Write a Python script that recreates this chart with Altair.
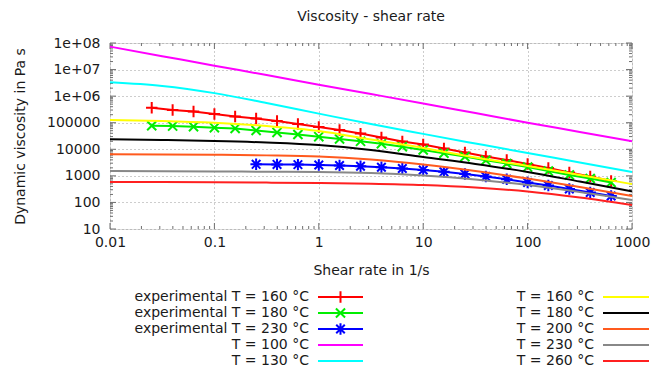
import altair as alt
import pandas as pd

# ---------------- data ----------------
shear_fit = [0.01, 0.0316, 0.1, 0.316, 1, 3.16, 10, 31.6, 100, 316, 1000]
eta_T100 = [7.3e7, 3.2e7, 1.4e7, 6.2e6, 2.7e6, 1.2e6, 5.3e5, 2.3e5, 1.0e5, 4.5e4, 2.0e4]
eta_T130 = [3.3e6, 2.4e6, 1.3e6, 5.5e5, 2.2e5, 8.9e4, 3.8e4, 1.65e4, 7.2e3, 3.2e3, 1.4e3]
eta_T160 = [1.26e5, 1.16e5, 9.9e4, 7.5e4, 4.9e4, 2.33e4, 1.12e4, 4.9e3, 2.35e3, 1.08e3, 490]
eta_T180 = [2.38e4, 2.23e4, 2.05e4, 1.8e4, 1.45e4, 9.4e3, 5.1e3, 2.8e3, 1.4e3, 610, 260]
eta_T200 = [6.5e3, 6.4e3, 6.2e3, 5.9e3, 5.35e3, 4.1e3, 2.67e3, 1.52e3, 790, 380, 175]
eta_T230 = [1.52e3, 1.5e3, 1.47e3, 1.43e3, 1.4e3, 1.28e3, 1.03e3, 730, 450, 247, 123]
eta_T260 = [587, 582, 571, 557, 538, 507, 453, 365, 258, 153, 80]

shear_exp = [0.0251, 0.0398, 0.0631, 0.1, 0.158, 0.251, 0.398, 0.631, 1, 1.58, 2.51,
             3.98, 6.31, 10, 15.8, 25.1, 39.8, 63.1, 100, 158, 251, 398, 631]
shear_exp_230 = [0.251, 0.398, 0.631, 1, 1.58, 2.51, 3.98, 6.31, 10, 15.8, 25.1,
                 39.8, 63.1, 100, 158, 251, 398, 631]
eta_exp_160 = [3.67e5, 3.01e5, 2.64e5, 2.13e5, 1.71e5, 1.44e5, 1.16e5, 8.9e4, 6.9e4,
               5.3e4, 3.9e4, 2.77e4, 1.96e4, 1.51e4, 1.07e4, 7.6e3, 5.35e3, 3.95e3,
               2.79e3, 1.98e3, 1.34e3, 946, 640]
eta_exp_180 = [7.7e4, 7.5e4, 7.1e4, 6.5e4, 6.1e4, 5.1e4, 4.3e4, 3.6e4, 2.97e4, 2.44e4,
               2.0e4, 1.62e4, 1.25e4, 9.4e3, 7.1e3, 5.3e3, 3.85e3, 2.92e3, 2.15e3,
               1.52e3, 1.08e3, 794, 562]
eta_exp_230 = [2.72e3, 2.70e3, 2.65e3, 2.56e3, 2.45e3, 2.29e3, 2.10e3, 1.89e3, 1.66e3,
               1.42e3, 1.17e3, 946, 741, 562, 434, 320, 236, 175]

exp_names = ["experimental T = 160 °C", "experimental T = 180 °C", "experimental T = 230 °C"]
fit_names = ["T = 100 °C", "T = 130 °C", "T = 160 °C", "T = 180 °C", "T = 200 °C",
             "T = 230 °C", "T = 260 °C"]

# ---------------- styling ----------------
FONT = "DejaVu Sans"
W, H = 522, 186
BORDER = "#6e6e6e"
exp_colors = ["#ff0000", "#00ee00", "#0000ff"]
fit_colors = ["#ff00ff", "#00ffff", "#ffff00", "#000000", "#ff5a1e", "#888888", "#ff2020"]
PLUS = "M-1,0L1,0M0,-1L0,1"
CROSS = "M-0.8,-0.8L0.8,0.8M-0.8,0.8L0.8,-0.8"
STAR = PLUS + "M-0.75,-0.75L0.75,0.75M-0.75,0.75L0.75,-0.75"
exp_shapes = [PLUS, CROSS, STAR]

xscale = alt.Scale(type="log", domain=[0.01, 1000], nice=False)
yscale = alt.Scale(type="log", domain=[10, 1e8], nice=False)

x_axis = alt.Axis(
    values=[0.01, 0.1, 1, 10, 100, 1000], format="~g", ticks=False, domain=False,
    labelFlush=False, labelOverlap=False,
    grid=True, gridDash=[1, 3], gridColor="#9a9a9a", gridWidth=1,
    labelFont=FONT, labelFontSize=14, labelColor="#1a1a1a", labelPadding=6,
    title="Shear rate in 1/s", titleFont=FONT, titleFontSize=14, titleFontWeight="normal",
    titleColor="#1a1a1a", titleY=41, titleBaseline="middle",
)
y_axis = alt.Axis(
    values=[10, 100, 1000, 1e4, 1e5, 1e6, 1e7, 1e8],
    labelExpr="datum.value >= 1e6 ? '1e+0' + round(log(datum.value) / LN10) : format(datum.value, 'd')",
    ticks=False, domain=False, labelFlush=False, labelOverlap=False,
    grid=True, gridDash=[1, 3], gridColor="#9a9a9a", gridWidth=1,
    labelFont=FONT, labelFontSize=14, labelColor="#1a1a1a", labelPadding=10,
    title="Dynamic viscosity in Pa s", titleFont=FONT, titleFontSize=14,
    titleFontWeight="normal", titleColor="#1a1a1a", titleX=-90, titleY=H / 2,
    titleBaseline="middle", titleAlign="center", titleAngle=-90,
)


def X(field):
    return alt.X(f"{field}:Q", scale=xscale, axis=x_axis)


def Y(field):
    return alt.Y(f"{field}:Q", scale=yscale, axis=y_axis)


layers = []

# ---- inward ticks (mirror on all four sides) ----
x_major = [0.01, 0.1, 1, 10, 100, 1000]
x_minor = [m * 10.0 ** d for d in range(-2, 3) for m in range(2, 10)]
y_major = [10.0 ** d for d in range(1, 9)]
y_minor = [m * 10.0 ** d for d in range(1, 8) for m in range(2, 10)]
for vals, ln in [(x_major, 6), (x_minor, 3)]:
    df = pd.DataFrame({"t": vals})
    layers.append(alt.Chart(df).mark_rule(color=BORDER, strokeWidth=1).encode(
        x=X("t"), y=alt.value(H), y2=alt.value(H - ln)))
    layers.append(alt.Chart(df).mark_rule(color=BORDER, strokeWidth=1).encode(
        x=X("t"), y=alt.value(0), y2=alt.value(ln)))
for vals, ln in [(y_major, 6), (y_minor, 3)]:
    df = pd.DataFrame({"t": vals})
    layers.append(alt.Chart(df).mark_rule(color=BORDER, strokeWidth=1).encode(
        y=Y("t"), x=alt.value(0), x2=alt.value(ln)))
    layers.append(alt.Chart(df).mark_rule(color=BORDER, strokeWidth=1).encode(
        y=Y("t"), x=alt.value(W), x2=alt.value(W - ln)))

# ---- experimental series ----
exp_x = [shear_exp, shear_exp, shear_exp_230]
exp_y = [eta_exp_160, eta_exp_180, eta_exp_230]
for name, xs, ys, col, shp in zip(exp_names, exp_x, exp_y, exp_colors, exp_shapes):
    df = pd.DataFrame({"shear": xs, "eta": ys, "series": name})
    layers.append(alt.Chart(df).mark_line(color=col, strokeWidth=2).encode(
        x=X("shear"), y=Y("eta")))
    layers.append(alt.Chart(df).mark_point(shape=shp, size=130, filled=False, color=col,
                                           strokeWidth=2, opacity=1).encode(
        x=X("shear"), y=Y("eta")))

# ---- model curves ----
fit_y = [eta_T100, eta_T130, eta_T160, eta_T180, eta_T200, eta_T230, eta_T260]
for name, ys, col in zip(fit_names, fit_y, fit_colors):
    df = pd.DataFrame({"shear": shear_fit, "eta": ys, "series": name})
    layers.append(alt.Chart(df).mark_line(color=col, strokeWidth=2, interpolate="monotone").encode(
        x=X("shear"), y=Y("eta")))

# ---- title ----
one = pd.DataFrame({"k": [0]})
layers.append(alt.Chart(one).mark_text(font=FONT, fontSize=14, color="#1a1a1a",
                                       align="center", baseline="middle").encode(
    x=alt.value(W / 2), y=alt.value(-26), text=alt.value("Viscosity - shear rate")))

# ---- legend (two columns below the plot) ----
row_y = [254, 270, 286, 302, 318]
col1 = list(zip(exp_names + fit_names[:2], exp_colors + fit_colors[:2],
                exp_shapes + [None, None]))
col2 = list(zip(fit_names[2:], fit_colors[2:], [None] * 5))
for entries, text_right, line_l, line_r in [(col1, 199, 208, 253), (col2, 484, 493, 539)]:
    for (label, col, shp), ry in zip(entries, row_y):
        layers.append(alt.Chart(one).mark_text(font=FONT, fontSize=14, color="#1a1a1a",
                                               align="right", baseline="middle").encode(
            x=alt.value(text_right), y=alt.value(ry), text=alt.value(label)))
        layers.append(alt.Chart(one).mark_rule(color=col, strokeWidth=2).encode(
            x=alt.value(line_l), x2=alt.value(line_r), y=alt.value(ry)))
        if shp:
            layers.append(alt.Chart(one).mark_point(shape=shp, size=130, filled=False,
                                                    color=col, strokeWidth=2, opacity=1).encode(
                x=alt.value((line_l + line_r) / 2), y=alt.value(ry)))

chart = alt.layer(*layers).properties(
    width=W, height=H,
    autosize=alt.AutoSizeParams(type="none"),
    padding={"left": 102, "top": 35, "right": 29, "bottom": 141},
).configure_view(stroke=BORDER, strokeWidth=1).configure(background="white")

chart.save("out.html", embed_options={"renderer": "svg", "actions": False})
